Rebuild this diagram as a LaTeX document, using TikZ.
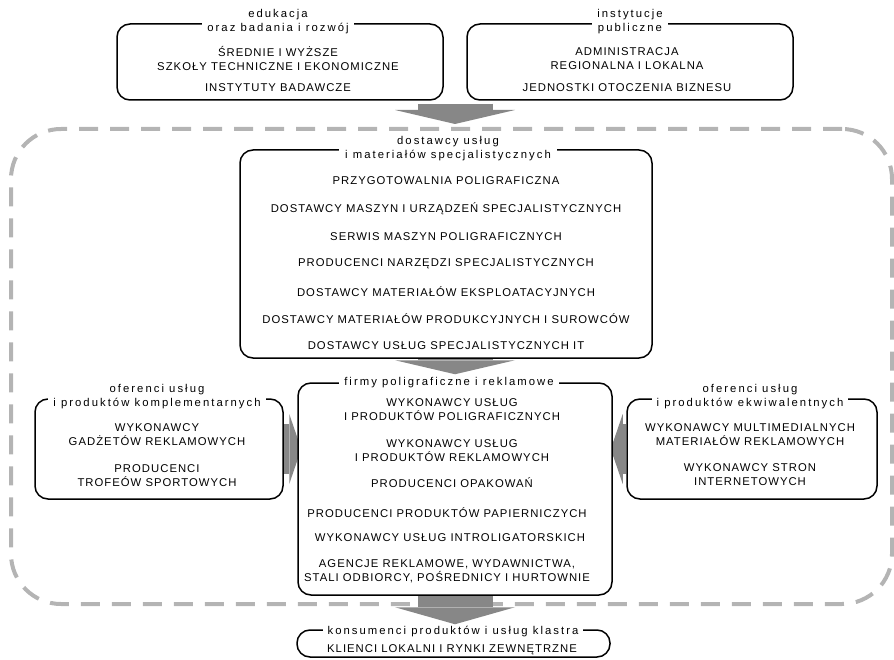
\documentclass[tikz,border=0pt]{standalone}
\usepackage{fontspec}
\setmainfont{Liberation Sans}
\newfontfamily\capsfont{Liberation Sans}[LetterSpace=9]
\newfontfamily\lowfont{Liberation Sans}[LetterSpace=18]
\usetikzlibrary{arrows.meta,backgrounds,calc}

\definecolor{framegray}{RGB}{180,180,180}
\definecolor{arrowgray}{RGB}{135,135,135}

\begin{document}
\begin{tikzpicture}[x=1pt,y=-1pt,
	panel/.style={draw=black, line width=1.5pt, rounded corners=13pt, fill=white, inner sep=0pt},
	paneltitle/.style={fill=white, align=center, inner xsep=5pt, inner ysep=1pt, font=\lowfont\fontsize{11.3}{14}\selectfont},
	item/.style={align=center, inner sep=0pt, font=\capsfont\fontsize{11.3}{14}\selectfont},
	cluster/.style={draw=framegray, line width=4pt, dash pattern=on 19pt off 12pt, rounded corners=50pt, inner sep=0pt},
	bigarrow/.style={draw=arrowgray, line width=75pt, -{Triangle[width=120pt,length=14pt,line width=0pt]}},
	sidearrow/.style={draw=arrowgray, line width=50pt, -{Triangle[width=70pt,length=12pt,line width=0pt]}}]
	\useasboundingbox (0,0) rectangle (894,660);
	
	%boxes
	\node[panel, minimum width=326pt, minimum height=76pt]  (edu)  at (280,62) {};
	\node[panel, minimum width=326pt, minimum height=76pt]  (inst) at (630,62) {};
	\node[panel, minimum width=412pt, minimum height=208pt] (sup)  at (446,254) {};
	\node[panel, minimum width=248pt, minimum height=100pt] (komp) at (159,449) {};
	\node[panel, minimum width=314pt, minimum height=212pt] (firm) at (455,489) {};
	\node[panel, minimum width=250pt, minimum height=100pt] (ekw)  at (752,449) {};
	\node[panel, minimum width=313pt, minimum height=27pt]  (cons) at (453.5,643.5) {};
	
	%titles on the top borders
	\node[paneltitle] (edu-t)  at (278,22)    {edukacja\\oraz badania i rozwój};
	\node[paneltitle] (inst-t) at (630,21.5)  {instytucje\\publiczne};
	\node[paneltitle, inner xsep=6pt] (sup-t) at (448,148.5) {dostawcy usług\\i materiałów specjalistycznych};
	\node[paneltitle] (komp-t) at (157,396.5) {oferenci usług\\i produktów komplementarnych};
	\node[paneltitle] (firm-t) at (449,383)   {firmy poligraficzne i reklamowe};
	\node[paneltitle] (ekw-t)  at (750,396.5) {oferenci usług\\i produktów ekwiwalentnych};
	\node[paneltitle, inner ysep=0pt] (cons-t) at (453,632) {konsumenci produktów i usług klastra};
	
	%education
	\node[item] (edu-1) at (278,58.5) {ŚREDNIE I WYŻSZE\\SZKOŁY TECHNICZNE I EKONOMICZNE};
	\node[item] (edu-2) at (278,88)   {INSTYTUTY BADAWCZE};
	%public institutions
	\node[item] (inst-1) at (627,58.5) {ADMINISTRACJA\\REGIONALNA I LOKALNA};
	\node[item] (inst-2) at (627,88)   {JEDNOSTKI OTOCZENIA BIZNESU};
	
	%suppliers
	\node[item] (sup-1) at (446,181)   {PRZYGOTOWALNIA POLIGRAFICZNA};
	\node[item] (sup-2) at (446,209)   {DOSTAWCY MASZYN I URZĄDZEŃ SPECJALISTYCZNYCH};
	\node[item] (sup-3) at (446,236.5) {SERWIS MASZYN POLIGRAFICZNYCH};
	\node[item] (sup-4) at (446,264)   {PRODUCENCI NARZĘDZI SPECJALISTYCZNYCH};
	\node[item] (sup-5) at (446,291.5) {DOSTAWCY MATERIAŁÓW EKSPLOATACYJNYCH};
	\node[item] (sup-6) at (446,319)   {DOSTAWCY MATERIAŁÓW PRODUKCYJNYCH I SUROWCÓW};
	\node[item] (sup-7) at (446,346)   {DOSTAWCY USŁUG SPECJALISTYCZNYCH IT};
	
	%complementary
	\node[item] (komp-1) at (157,435)   {WYKONAWCY\\GADŻETÓW REKLAMOWYCH};
	\node[item] (komp-2) at (157,475.5) {PRODUCENCI\\TROFEÓW SPORTOWYCH};
	%equivalent
	\node[item] (ekw-1) at (750,435)   {WYKONAWCY MULTIMEDIALNYCH\\MATERIAŁÓW REKLAMOWYCH};
	\node[item] (ekw-2) at (750,474.5) {WYKONAWCY STRON\\INTERNETOWYCH};
	
	%printing and advertising firms
	\node[item] (firm-1) at (452,410)   {WYKONAWCY USŁUG\\I PRODUKTÓW POLIGRAFICZNYCH};
	\node[item] (firm-2) at (452,450.5) {WYKONAWCY USŁUG\\I PRODUKTÓW REKLAMOWYCH};
	\node[item] (firm-3) at (452,483)   {PRODUCENCI OPAKOWAŃ};
	\node[item] (firm-4) at (447,513)   {PRODUCENCI PRODUKTÓW PAPIERNICZYCH};
	\node[item] (firm-5) at (450,538)   {WYKONAWCY USŁUG INTROLIGATORSKICH};
	\node[item] (firm-6) at (447,571)   {AGENCJE REKLAMOWE, WYDAWNICTWA,\\STALI ODBIORCY, POŚREDNICY I HURTOWNIE};
	
	%consumers
	\node[item] (cons-1) at (452,650) {KLIENCI LOKALNI I RYNKI ZEWNĘTRZNE};
	
	\begin{scope}[on background layer]
		%dashed cluster frame
		\node[cluster, minimum width=881pt, minimum height=475pt] (cluster) at (451.5,366.5) {};
		%block arrows
		\coordinate (gap) at ($(edu.south east)!.5!(inst.south west)$);
		\draw[bigarrow, shorten >=3pt] ([yshift=-3pt]gap) -- (gap |- cluster.north);
		\draw[bigarrow, shorten >=8pt] (sup.south -| gap) -- (firm.north -| gap);
		\draw[bigarrow, -{Triangle[width=120pt,length=17pt,line width=0pt]}, shorten >=5pt] (firm.south -| gap) -- (cons.north -| gap);
		\draw[sidearrow, shorten >=-4pt] (komp.east) -- (komp.east -| firm.west);
		\draw[sidearrow, shorten >=-2pt] (ekw.west) -- (ekw.west -| firm.east);
	\end{scope}
\end{tikzpicture}
\end{document}
